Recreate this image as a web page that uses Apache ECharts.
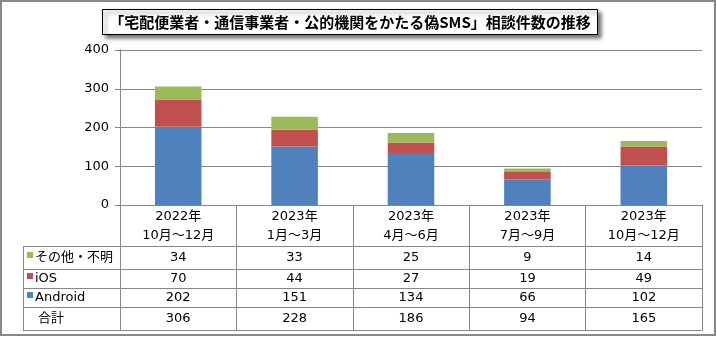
<!DOCTYPE html>
<html><head><meta charset="utf-8">
<script src="https://cdn.jsdelivr.net/npm/echarts@6/dist/echarts.min.js"></script>
<style>html,body{margin:0;padding:0;background:#fff}#c{width:717px;height:337px}</style>
</head><body><div id="c"></div>
<script>
const titleText = '「宅配便業者・通信事業者・公的機関をかたる偽SMS」相談件数の推移';
const categories = ['2022年\n10月～12月', '2023年\n1月～3月', '2023年\n4月～6月', '2023年\n7月～9月', '2023年\n10月～12月'];
const android = [202, 151, 134, 66, 102];
const ios = [70, 44, 27, 19, 49];
const other = [34, 33, 25, 9, 14];
const total = [306, 228, 186, 94, 165];
const rowLabels = ['その他・不明', 'iOS', 'Android', '合計'];
const rowValues = [other, ios, android, total];
const yMin = 0, yMax = 400, yInterval = 100;

const COL_OTHER = '#9BBB59', COL_IOS = '#C0504D', COL_AND = '#4F81BD';
const rowColors = [COL_OTHER, COL_IOS, COL_AND, null];
const LINE = '#878787';
const FONT = '"DejaVu Sans", "Noto Sans CJK JP", sans-serif';

// layout
const W = 717, H = 337;
const gridLeft = 120, gridRight = 702, gridTop = 50, axisY = 205;
const headerBottom = 246;
const rowBottoms = [269, 288, 307, 330];
const legendLeft = 23;

const chart = echarts.init(document.getElementById('c'), null, {renderer: 'canvas'});

const rowTops = [headerBottom].concat(rowBottoms.slice(0, -1));
const valueAxes = rowValues.map((vals, k) => ({
  type: 'category', gridIndex: 0, position: 'bottom',
  data: categories, offset: (rowTops[k] + rowBottoms[k]) / 2 - axisY,
  axisLine: {show: false}, axisTick: {show: false}, splitLine: {show: false},
  axisLabel: {interval: 0, margin: 0, verticalAlign: 'middle', fontFamily: FONT, fontSize: 13, color: '#000',
    formatter: (v, i) => String(vals[i])}
}));

const graphics = [];
// outer frame
graphics.push({type: 'rect', shape: {x: 1, y: 1, width: W - 3, height: H - 3}, style: {fill: 'none', stroke: '#888', lineWidth: 2}, silent: true});
// title box
graphics.push({type: 'rect', shape: {x: 102.5, y: 9.5, width: 495, height: 25}, style: {fill: '#fff', stroke: '#000', lineWidth: 1, shadowBlur: 4, shadowOffsetX: 3, shadowOffsetY: 3, shadowColor: 'rgba(0,0,0,0.55)'}});
graphics.push({type: 'text', x: 350, y: 22.5, style: {text: titleText, fill: '#000', font: 'bold 15px "Noto Sans CJK JP", sans-serif', textAlign: 'center', textVerticalAlign: 'middle'}});
// table horizontal lines
[headerBottom].concat(rowBottoms).forEach(y => {
  graphics.push({type: 'line', shape: {x1: legendLeft, y1: y + 0.5, x2: gridRight + 0.5, y2: y + 0.5}, style: {stroke: LINE, lineWidth: 1}});
});
// legend column left border
graphics.push({type: 'line', shape: {x1: legendLeft + 0.5, y1: headerBottom, x2: legendLeft + 0.5, y2: rowBottoms[rowBottoms.length - 1] + 1}, style: {stroke: LINE, lineWidth: 1}});
// legend column labels
rowLabels.forEach((lab, k) => {
  const cy = (rowTops[k] + rowBottoms[k]) / 2 + 0.5;
  if (rowColors[k]) {
    graphics.push({type: 'rect', shape: {x: 27, y: cy - 6, width: 6, height: 6}, style: {fill: rowColors[k]}});
    graphics.push({type: 'text', x: 35, y: cy, style: {text: lab, fill: '#000', font: '13px ' + FONT, textVerticalAlign: 'middle'}});
  } else {
    graphics.push({type: 'text', x: 38, y: cy, style: {text: lab, fill: '#000', font: '13px ' + FONT, textVerticalAlign: 'middle'}});
  }
});

chart.setOption({
  animation: false,
  backgroundColor: '#fff',
  grid: {left: gridLeft, right: W - gridRight, top: gridTop, bottom: H - axisY, containLabel: false},
  xAxis: [{
    type: 'category', data: categories, gridIndex: 0, position: 'bottom',
    axisLine: {show: true, lineStyle: {color: LINE, width: 1}},
    axisTick: {show: true, interval: 0, length: rowBottoms[rowBottoms.length - 1] - axisY, lineStyle: {color: LINE}},
    axisLabel: {interval: 0, margin: 2, fontFamily: FONT, fontSize: 13, color: '#000', lineHeight: 19}
  }].concat(valueAxes),
  yAxis: {
    type: 'value', min: yMin, max: yMax, interval: yInterval,
    axisLine: {show: true, lineStyle: {color: LINE}},
    axisTick: {show: true, length: 5, lineStyle: {color: LINE}},
    axisLabel: {margin: 11, fontFamily: FONT, fontSize: 13, color: '#000'},
    splitLine: {show: true, lineStyle: {color: LINE, width: 1}}
  },
  series: [
    {name: 'Android', type: 'bar', stack: 's', data: android, barWidth: '40%', itemStyle: {color: COL_AND}},
    {name: 'iOS', type: 'bar', stack: 's', data: ios, barWidth: '40%', itemStyle: {color: COL_IOS}},
    {name: 'その他・不明', type: 'bar', stack: 's', data: other, barWidth: '40%', itemStyle: {color: COL_OTHER}}
  ],
  graphic: graphics
});
</script></body></html>
